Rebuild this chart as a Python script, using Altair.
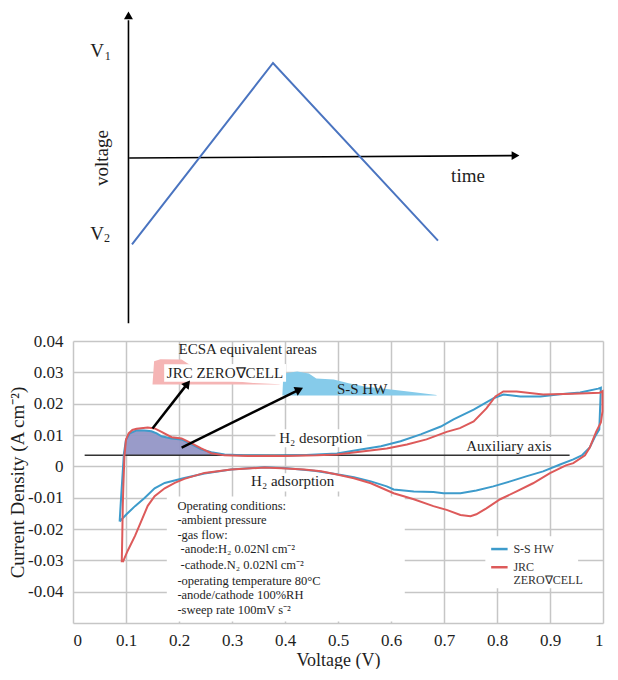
import altair as alt
import pandas as pd

FONT = "Liberation Serif"
BLUE = "#3d9bcb"
RED = "#dd5a5a"
WAVE = "#4a74c0"
INK = "#1e1e1e"
GRID = "#c6c6c6"

# ---------------- top schematic (triangular voltage sweep) ----------------
wave_time = [0.0, 1.0, 2.17]
wave_volt = [-0.91, 1.0, -0.87]
time_axis_time = [-0.02, 2.70]
time_axis_volt = [0.0, 0.025]
volt_axis_time = [-0.025, -0.025]
volt_axis_volt = [-1.74, 1.45]
arrow_time = [-0.025, 2.72]
arrow_volt = [1.50, 0.025]
arrow_shape = ["triangle-up", "triangle-right"]
sch_text = ["V", "1", "V", "2", "time"]
sch_text_time = [-0.248, -0.172, -0.248, -0.177, 2.383]
sch_text_volt = [1.126, 1.07, -0.80, -0.845, -0.189]
sch_text_size = [19, 12, 19, 12, 19]
sch_vlabel = ["voltage"]
sch_vlabel_time = [-0.213]
sch_vlabel_volt = [0.0]
T_DOM = [-0.4184, 3.3404]
V_DOM = [-1.7684, 1.5789]

tx = alt.X("t:Q", scale=alt.Scale(domain=T_DOM, nice=False, zero=False), axis=None)
ty = alt.Y("v:Q", scale=alt.Scale(domain=V_DOM, nice=False, zero=False), axis=None)

top_wave = alt.Chart(pd.DataFrame({"t": wave_time, "v": wave_volt, "k": [0, 1, 2]})).mark_line(
    color=WAVE, strokeWidth=2).encode(x=tx, y=ty, order=alt.Order("k:Q"))
top_taxis = alt.Chart(pd.DataFrame({"t": time_axis_time, "v": time_axis_volt, "k": [0, 1]})).mark_line(
    color="black", strokeWidth=1.6).encode(x=tx, y=ty, order=alt.Order("k:Q"))
top_vaxis = alt.Chart(pd.DataFrame({"t": volt_axis_time, "v": volt_axis_volt, "k": [0, 1]})).mark_line(
    color="black", strokeWidth=1.6).encode(x=tx, y=ty, order=alt.Order("k:Q"))
top_heads = alt.Chart(pd.DataFrame({"t": arrow_time, "v": arrow_volt, "shape": arrow_shape})).mark_point(
    filled=True, color="black", size=80, opacity=1).encode(x=tx, y=ty, shape=alt.Shape("shape:N", scale=None))
top_text = alt.Chart(pd.DataFrame({"t": sch_text_time, "v": sch_text_volt, "txt": sch_text, "fs": sch_text_size})).mark_text(
    font=FONT, color=INK, align="center", baseline="middle").encode(
    x=tx, y=ty, text="txt:N", size=alt.Size("fs:Q", scale=None))
top_vtext = alt.Chart(pd.DataFrame({"t": sch_vlabel_time, "v": sch_vlabel_volt, "txt": sch_vlabel})).mark_text(
    font=FONT, color=INK, fontSize=19, angle=270, align="center", baseline="middle").encode(x=tx, y=ty, text="txt:N")

top = alt.layer(top_vaxis, top_taxis, top_wave, top_heads, top_text, top_vtext).properties(width=530, height=318)

# ---------------- bottom: cyclic voltammograms ----------------
ss_V = [0.088, 0.090, 0.093, 0.096, 0.100, 0.107, 0.120, 0.135, 0.148, 0.158, 0.167, 0.186, 0.205, 0.224,
        0.242, 0.261, 0.286, 0.320, 0.380, 0.440, 0.498, 0.543, 0.581, 0.618, 0.656, 0.694, 0.718, 0.756,
        0.793, 0.812, 0.844, 0.882, 0.919, 0.957, 0.991, 0.996,
        0.993, 0.985, 0.975, 0.960, 0.944, 0.919, 0.887, 0.855, 0.825, 0.793, 0.761, 0.731, 0.699, 0.680,
        0.643, 0.605, 0.592, 0.562, 0.530, 0.498, 0.455, 0.404, 0.361, 0.298, 0.248, 0.210, 0.173, 0.154,
        0.135, 0.117, 0.101, 0.092, 0.088]
ss_I = [-0.0176, -0.0120, -0.0040, 0.0040, 0.0085, 0.0105, 0.0115, 0.0114, 0.0112, 0.0105, 0.0096, 0.0089,
        0.0086, 0.0070, 0.0054, 0.0045, 0.0038, 0.0035, 0.0034, 0.0036, 0.0041, 0.0054, 0.0064, 0.0080,
        0.0102, 0.0127, 0.0150, 0.0181, 0.0217, 0.0229, 0.0223, 0.0223, 0.0230, 0.0236, 0.0248, 0.0251,
        0.0118, 0.0095, 0.0060, 0.0035, 0.0022, 0.0006, -0.0016, -0.0032, -0.0048, -0.0064, -0.0077,
        -0.0086, -0.0086, -0.0082, -0.0080, -0.0074, -0.0064, -0.0048, -0.0035, -0.0025, -0.0014, -0.0006,
        -0.0003, -0.0010, -0.0023, -0.0037, -0.0053, -0.0070, -0.0101, -0.0127, -0.0153, -0.0169, -0.0176]
jrc_V = [0.092, 0.093, 0.094, 0.095, 0.097, 0.100, 0.105, 0.112, 0.120, 0.141, 0.154, 0.167, 0.186, 0.205,
         0.224, 0.242, 0.261, 0.286, 0.330, 0.400, 0.460, 0.498, 0.549, 0.592, 0.630, 0.667, 0.705, 0.730,
         0.756, 0.780, 0.797, 0.812, 0.837, 0.887, 0.944, 0.994, 0.999,
         0.999, 0.996, 0.987, 0.975, 0.966, 0.944, 0.930, 0.900, 0.868, 0.837, 0.806, 0.780, 0.761, 0.750,
         0.731, 0.705, 0.680, 0.643, 0.605, 0.562, 0.530, 0.498, 0.468, 0.436, 0.393, 0.361, 0.298, 0.248,
         0.210, 0.192, 0.173, 0.154, 0.141, 0.130, 0.117, 0.103, 0.094]
jrc_I = [-0.0306, -0.0220, -0.0120, -0.0064, 0.0032, 0.0085, 0.0105, 0.0116, 0.0120, 0.0124, 0.0121,
         0.0110, 0.0093, 0.0089, 0.0073, 0.0057, 0.0042, 0.0035, 0.0033, 0.0033, 0.0035, 0.0038, 0.0048,
         0.0057, 0.0070, 0.0086, 0.0110, 0.0122, 0.0143, 0.0185, 0.0223, 0.0239, 0.0239, 0.0229, 0.0232,
         0.0235, 0.0240,
         0.0175, 0.0140, 0.0110, 0.0060, 0.0035, 0.0010, 0.0003, -0.0022, -0.0054, -0.0080, -0.0105,
         -0.0134, -0.0153, -0.0159, -0.0155, -0.0139, -0.0127, -0.0105, -0.0086, -0.0054, -0.0038, -0.0026,
         -0.0016, -0.0010, -0.0006, -0.0004, -0.0010, -0.0021, -0.0040, -0.0053, -0.0070, -0.0095, -0.0126,
         -0.0170, -0.0222, -0.0270, -0.0306]
series_names = ["S-S HW", "JRC ZERO∇CELL"]

# shaded H2 desorption charge (above the auxiliary axis)
aux_level = 0.0035
shade_V = [0.096, 0.097, 0.100, 0.107, 0.120, 0.135, 0.148, 0.158, 0.167, 0.186, 0.205, 0.224, 0.242,
           0.261, 0.286, 0.310]
shade_I = [0.0035, 0.0060, 0.0085, 0.0105, 0.0115, 0.0114, 0.0112, 0.0105, 0.0096, 0.0089, 0.0086,
           0.0070, 0.0054, 0.0045, 0.0038, 0.0035]
# ECSA equivalent-area insets
jrc_ins_V = [0.150, 0.153, 0.165, 0.205, 0.215, 0.240, 0.250, 0.300, 0.340, 0.390]
jrc_ins_I = [0.0261, 0.0335, 0.0342, 0.0341, 0.0330, 0.0305, 0.0285, 0.0272, 0.0266, 0.0262]
jrc_ins_base = 0.0261
ss_ins_V = [0.395, 0.397, 0.423, 0.445, 0.459, 0.492, 0.520, 0.550, 0.600, 0.640, 0.686]
ss_ins_I = [0.0226, 0.0296, 0.0303, 0.0296, 0.0280, 0.0277, 0.0265, 0.0255, 0.0245, 0.0237, 0.0228]
ss_ins_base = 0.0226

# white label boxes: V1, V2, I1, I2  (JRC label, desorption, adsorption, auxiliary, conditions, legend)
box_V1 = [0.172, 0.382, 0.329, 0.737, 0.177, 0.778]
box_V2 = [0.402, 0.555, 0.504, 0.912, 0.626, 0.953]
box_I1 = [0.0270, 0.0061, -0.0080, 0.0038, -0.0495, -0.0389]
box_I2 = [0.0326, 0.0118, -0.0022, 0.0094, -0.0096, -0.0223]

# arrows
arr_V1 = [0.150, 0.205]
arr_I1 = [0.0121, 0.0060]
arr_V2 = [0.216, 0.427]
arr_I2 = [0.0264, 0.0245]
arr_angle = [38, 64]

# annotation labels
lab_text = ["ECSA equivalent areas", "JRC ZERO∇CELL", "S-S HW", "H₂ desorption", "H₂ adsorption", "Auxiliary axis"]
lab_V = [0.199, 0.177, 0.498, 0.389, 0.336, 0.742]
lab_I = [0.0376, 0.0299, 0.0248, 0.0089, -0.0048, 0.0064]

cond_text = ["Operating conditions:", "-ambient pressure", "-gas flow:", "  -anode:H₂ 0.02Nl cm⁻²",
             "  -cathode.N₂ 0.02Nl cm⁻²", "-operating temperature 80°C", "-anode/cathode 100%RH",
             "-sweep rate 100mV s⁻²"]
cond_V = [0.197, 0.197, 0.197, 0.203, 0.203, 0.197, 0.197, 0.197]
cond_I = [-0.0127, -0.0172, -0.0220, -0.0264, -0.0315, -0.0366, -0.0411, -0.0459]

# legend (drawn in the plot, as in the source)
leg_V1 = [0.789, 0.789]
leg_V2 = [0.820, 0.820]
leg_I = [-0.0264, -0.0322]
leg_txt = ["S-S HW", "JRC", "ZERO∇CELL"]
leg_txt_V = [0.831, 0.831, 0.831]
leg_txt_I = [-0.0264, -0.0322, -0.0363]

x_ticks = [0, 0.1, 0.2, 0.3, 0.4, 0.5, 0.6, 0.7, 0.8, 0.9, 1.0]
y_ticks = [-0.04, -0.03, -0.02, -0.01, 0, 0.01, 0.02, 0.03, 0.04]

xs = alt.Scale(domain=[0, 1], nice=False, zero=False)
ys = alt.Scale(domain=[-0.05, 0.04], nice=False, zero=False)
cs = alt.Scale(domain=series_names, range=[BLUE, RED])
x_axis = alt.Axis(values=x_ticks, format=".1~f", title="Voltage (V)", grid=True, gridColor=GRID, gridWidth=1.5,
                  domain=True, domainColor=GRID, domainWidth=1.5, ticks=False, labelFont=FONT, labelFontSize=17,
                  labelColor=INK, labelPadding=9, labelFlush=True, titleFont=FONT, titleFontSize=18,
                  titleFontWeight="normal", titleColor=INK, titlePadding=3)
y_axis = alt.Axis(values=y_ticks, labelExpr="replace(format(datum.value, '.2~f'), '\u2212', '-')",
                  title="Current Density (A cm⁻²)", grid=True, gridColor=GRID, gridWidth=1.5, domain=False,
                  ticks=False, labelFont=FONT, labelFontSize=17, labelColor=INK, labelPadding=10,
                  titleFont=FONT, titleFontSize=19, titleFontWeight="normal", titleColor=INK, titlePadding=0)
bx = alt.X("V:Q", scale=xs, axis=x_axis)
by = alt.Y("I:Q", scale=ys, axis=y_axis)

rows = []
for name, vv, ii in [(series_names[0], ss_V, ss_I), (series_names[1], jrc_V, jrc_I)]:
    for k, (a, b) in enumerate(zip(vv, ii)):
        rows.append({"series": name, "V": a, "I": b, "k": k})
cv = pd.DataFrame(rows)

boxes = alt.Chart(pd.DataFrame({"V": box_V1, "V2": box_V2, "I": box_I1, "I2": box_I2})).mark_rect(
    color="white").encode(x=bx, x2="V2:Q", y=by, y2="I2:Q")
shade = alt.Chart(pd.DataFrame({"V": shade_V, "I": shade_I, "base": [aux_level] * len(shade_V)})).mark_area(
    color="#9396c6", opacity=0.95).encode(x=bx, y=by, y2="base:Q")
jrc_ins = alt.Chart(pd.DataFrame({"V": jrc_ins_V, "I": jrc_ins_I, "base": [jrc_ins_base] * len(jrc_ins_V)})).mark_area(
    color="#f5b5b5").encode(x=bx, y=by, y2="base:Q")
ss_ins = alt.Chart(pd.DataFrame({"V": ss_ins_V, "I": ss_ins_I, "base": [ss_ins_base] * len(ss_ins_V)})).mark_area(
    color="#86cbea").encode(x=bx, y=by, y2="base:Q")
jrc_box = alt.Chart(pd.DataFrame({"V": box_V1[:1], "V2": box_V2[:1], "I": box_I1[:1], "I2": box_I2[:1]})).mark_rect(
    color="white").encode(x=bx, x2="V2:Q", y=by, y2="I2:Q")
aux = alt.Chart(pd.DataFrame({"V": [0.022], "V2": [0.937], "I": [aux_level]})).mark_rule(
    color="#333333", strokeWidth=1.5).encode(x=bx, x2="V2:Q", y=by)
lines = alt.Chart(cv).mark_line(strokeWidth=2).encode(
    x=bx, y=by, order=alt.Order("k:Q"), color=alt.Color("series:N", scale=cs, legend=None))
arrows = alt.Chart(pd.DataFrame({"V": arr_V1, "I": arr_I1, "V2": arr_V2, "I2": arr_I2})).mark_rule(
    color="black", strokeWidth=2.5).encode(x=bx, y=by, x2="V2:Q", y2="I2:Q")
heads = alt.Chart(pd.DataFrame({"V": arr_V2, "I": arr_I2, "ang": arr_angle})).mark_point(
    shape="triangle-up", filled=True, color="black", size=90, opacity=1).encode(
    x=bx, y=by, angle=alt.Angle("ang:Q", scale=None))
labels = alt.Chart(pd.DataFrame({"V": lab_V, "I": lab_I, "txt": lab_text})).mark_text(
    font=FONT, fontSize=15, color=INK, align="left", baseline="middle").encode(x=bx, y=by, text="txt:N")
cond = alt.Chart(pd.DataFrame({"V": cond_V, "I": cond_I, "txt": cond_text})).mark_text(
    font=FONT, fontSize=12.5, color=INK, align="left", baseline="middle").encode(x=bx, y=by, text="txt:N")
leg_lines = alt.Chart(pd.DataFrame({"V": leg_V1, "V2": leg_V2, "I": leg_I, "series": series_names})).mark_rule(
    strokeWidth=2.5).encode(x=bx, x2="V2:Q", y=by, color=alt.Color("series:N", scale=cs, legend=None))
leg_text = alt.Chart(pd.DataFrame({"V": leg_txt_V, "I": leg_txt_I, "txt": leg_txt})).mark_text(
    font=FONT, fontSize=12, color="#333333", align="left", baseline="middle").encode(x=bx, y=by, text="txt:N")

bottom = alt.layer(boxes, shade, jrc_ins, ss_ins, jrc_box, aux, lines, arrows, heads, labels, cond,
                   leg_lines, leg_text).properties(width=530, height=282)

chart = alt.vconcat(top, bottom, spacing=5).properties(padding=0, background="white").configure_view(stroke=None)
chart.save("out.html", embed_options={"renderer": "svg", "actions": False})
